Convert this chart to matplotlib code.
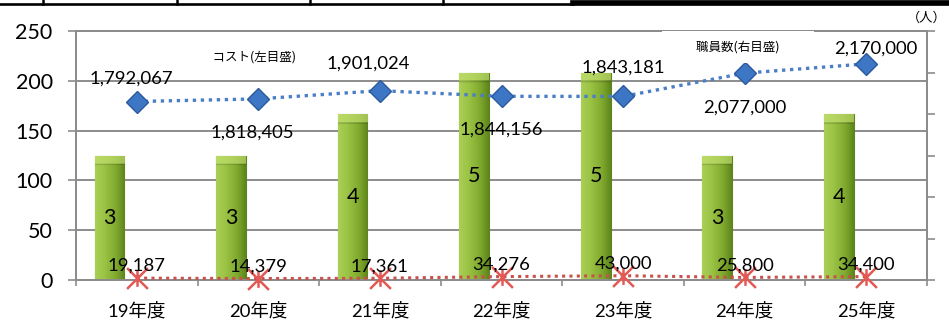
import numpy as np
import matplotlib
matplotlib.use('Agg')
import matplotlib.pyplot as plt
import matplotlib.transforms as mtransforms
from matplotlib.path import Path
from matplotlib.lines import Line2D
from matplotlib.colors import to_rgb

plt.rcParams['font.family'] = ['Lato', 'Noto Sans CJK JP', 'DejaVu Sans']

# ---------------- data ----------------
categories = ['19年度', '20年度', '21年度', '22年度', '23年度', '24年度', '25年度']
cost = [1792067, 1818405, 1901024, 1844156, 1843181, 2077000, 2170000]
cost_small = [19187, 14379, 17361, 34276, 43000, 25800, 34400]
staff = [3, 3, 4, 5, 5, 3, 4]
left_ticks = [0, 50, 100, 150, 200, 250]
right_ticks = [0, 1, 2, 3, 4, 5, 6]
unit = 10000  # left axis in 万円

# label layout (pixels)
cost_label_dx = [-5, -6, -12, 0, 0, 0, 10]
cost_label_dy = [23, -34, 27, -33, 29, -34, 15]

GRID = '#8c8c8c'
YELLOW = '#FFFF80'

fig = plt.figure(figsize=(9.49, 3.25), dpi=100)
ax = fig.add_axes([76 / 949, 45 / 325, 851 / 949, 249 / 325])
ax2 = ax.twinx()
ax.set_zorder(ax2.get_zorder() + 1)
ax.patch.set_visible(False)
ax2.patch.set_facecolor(YELLOW)

x = np.arange(len(categories))
cost_s = np.array(cost) / unit
small_s = np.array(cost_small) / unit

ax.set_ylim(0, 250)
ax.set_xlim(-0.5, len(x) - 0.5)

# gridlines (behind bars) in left-axis units
blend = mtransforms.blended_transform_factory(ax2.transAxes, ax.transData)
for v in left_ticks[1:]:
    ax2.add_line(Line2D([0, 1], [v, v], transform=blend, color=GRID, lw=1.4, zorder=0.5))

# bars with gradient
bar_off, bar_w = -0.225, 0.245
bars = ax2.bar(x + bar_off, staff, width=bar_w, color='#8cb43a', edgecolor='#5d821f',
               lw=0.8, zorder=2)
stops = [(0.0, '#a9cf55'), (0.3, '#9cc446'), (0.7, '#80aa2f'), (1.0, '#5e861c')]
pos = np.array([s[0] for s in stops])
cols = np.array([to_rgb(s[1]) for s in stops])
M = 60
u = np.linspace(0, 1, M)
row = np.stack([np.interp(u, pos, cols[:, k]) for k in range(3)], axis=-1)
for b in bars:
    bx, bw, bh = b.get_x(), b.get_width(), b.get_height()
    N = 200
    img = np.repeat(row[None, :, :], N, axis=0)
    cap = 0.2 / bh  # fraction of height for top bevel
    t = np.linspace(1, 0, N)  # top row first
    capmask = (t > 1 - cap)
    light = np.array(to_rgb('#c4e071'))
    img[capmask] = img[capmask] * 0.35 + light * 0.65
    edge_row = np.argmax(~capmask)
    img[edge_row:edge_row + 2] = img[edge_row:edge_row + 2] * 0.85
    im = ax2.imshow(img, extent=(bx, bx + bw, 0, bh), aspect='auto', zorder=2.1,
                    interpolation='bilinear')
    im.set_clip_path(b)
    ax2.text(bx + bw / 2, bh / 2, str(int(bh)), ha='center', va='center',
             fontsize=15.5, zorder=3)

ax2.set_xlim(-0.5, len(x) - 0.5)
ax2.set_ylim(0, 6)
ax2.set_yticks(right_ticks)
ax2.tick_params(axis='y', direction='out', length=5.8, width=1.2, color=GRID,
                labelright=False)

# cost line
ax.plot(x, cost_s, color='#4a7ec6', ls=(0, (1, 1.4)), lw=2.4, zorder=3)
ax.plot(x, cost_s, ls='none', marker='D', ms=11, mfc='#3c76c4', mec='#2b5b9c',
        mew=1, zorder=4)
for i in range(len(x)):
    ax.annotate(f'{cost[i]:,}', (x[i], cost_s[i]),
                xytext=(cost_label_dx[i], cost_label_dy[i]), textcoords='offset pixels',
                ha='center', va='center', fontsize=13.3, zorder=5)

# small cost line
ax.plot(x, small_s, color='#c9504c', ls=(0, (1, 1.4)), lw=2.2, zorder=3)
star = Path([(-1, -1), (1, 1), (-1, 1), (1, -1), (0, -0.8), (0, 0.8)],
            [Path.MOVETO, Path.LINETO, Path.MOVETO, Path.LINETO, Path.MOVETO, Path.LINETO])
ax.plot(x, small_s, ls='none', marker=star, ms=15, mec='#e25a55', mew=1.8, zorder=4,
        clip_on=False)
for i in range(len(x)):
    ax.annotate(f'{cost_small[i]:,}', (x[i], small_s[i]), xytext=(0, 12),
                textcoords='offset pixels', ha='center', va='center',
                fontsize=13.3, zorder=5)

ax.set_yticks(left_ticks)
ax.tick_params(axis='y', direction='out', length=5.8, width=1.2, color=GRID,
               labelsize=15.5, pad=11)
ax.set_xticks(np.arange(-0.5, len(x), 1))
ax.set_xticklabels([])
ax.tick_params(axis='x', which='major', direction='out', length=4, width=1.2, color=GRID)
ax.set_xticks(x, minor=True)
ax.set_xticklabels(categories, minor=True)
ax.tick_params(axis='x', which='minor', length=0, labelsize=13.3, pad=16)

for a in (ax, ax2):
    for s in a.spines.values():
        s.set_color(GRID)
        s.set_linewidth(1.4)

# legend-like boxes
box = dict(boxstyle='square,pad=0.75', facecolor='#ffffff', edgecolor='none')
ax.text(0.210, 0.897, '\u3000コスト(左目盛)\u3000', transform=ax.transAxes, ha='center',
        va='center', fontsize=9, family=['Noto Sans CJK JP'], zorder=7, bbox=box)
ax.text(0.778, 0.936, '\u3000\u3000職員数(右目盛)\u3000\u3000', transform=ax.transAxes,
        ha='center', va='center', fontsize=9, family=['Noto Sans CJK JP'], zorder=7,
        bbox=box)
ax.text(1.0, 1.052, '（人）', transform=ax.transAxes, ha='center', va='center',
        fontsize=9.5, family=['Noto Sans CJK JP'])

# table border fragment at the top
fig.add_artist(Line2D([0, 573 / 949], [1 - 4.3 / 325] * 2, color='black', lw=1.9))
fig.add_artist(Line2D([573 / 949, 1], [1 - 2.8 / 325] * 2, color='black', lw=4.1))
for px in [43, 177, 310, 443]:
    fig.add_artist(Line2D([px / 949] * 2, [1, 1 - 4 / 325], color='black', lw=1.8))

fig.savefig('out.png', dpi=100)
